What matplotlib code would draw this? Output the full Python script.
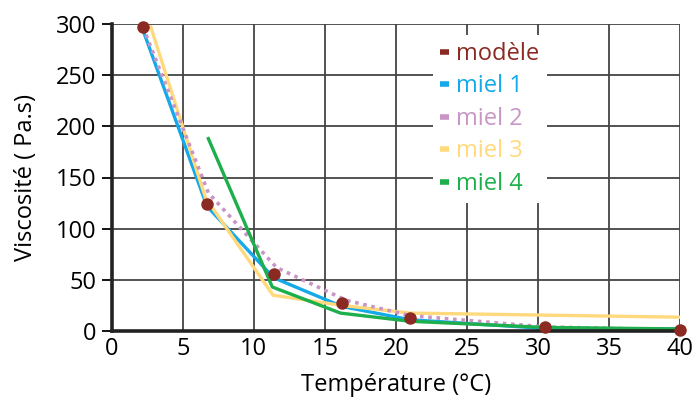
import matplotlib
matplotlib.use('Agg')
import matplotlib.pyplot as plt
from matplotlib.lines import Line2D

plt.rcParams['font.family'] = ['Open Sans', 'DejaVu Sans']

# données
modele_T = [2.2, 6.7, 11.4, 16.2, 21.0, 30.5, 40.0]
modele_v = [297, 124, 56, 27, 13, 4, 0.5]

miel1_T = [2.2, 6.7, 11.4, 16.2, 21.0, 30.5, 40.0]
miel1_v = [294, 122, 52, 24, 11, 2.5, 2]

miel2_T = [2.2, 6.8, 11.6, 16.5, 21.0, 30.5, 40.0]
miel2_v = [297, 135, 62, 30, 15, 4, 1]

miel3_T = [2.75, 6.6, 11.35, 16.2, 21.0, 40.0]
miel3_v = [297, 130, 35, 25, 17.5, 13.5]

miel4_T = [6.8, 11.3, 16.1, 21.0, 30.5, 40.0]
miel4_v = [188, 43, 17.5, 9.5, 3.5, 2]

labels = ['modèle', 'miel 1', 'miel 2', 'miel 3', 'miel 4']
colors = ['#8B2A22', '#14A9E8', '#C895C6', '#FFD97C', '#1DAF4B']

fig = plt.figure(figsize=(6.94, 4.0), dpi=100)
ax = fig.add_axes([0.161, 0.1725, 0.819, 0.7675])

ax.plot(miel1_T, miel1_v, color=colors[1], lw=2.4, zorder=3)
ax.plot(miel2_T, miel2_v, color=colors[2], lw=2.6, ls=(0, (1, 1.3)), zorder=3.2)
ax.plot(miel3_T, miel3_v, color=colors[3], lw=2.4, zorder=3.1)
ax.plot(miel4_T, miel4_v, color=colors[4], lw=2.4, zorder=3.3)
ax.plot(modele_T, modele_v, ls='none', marker='o', ms=8, color=colors[0],
        zorder=5, clip_on=False)

ax.set_xlim(0, 40)
ax.set_ylim(0, 300)
ax.set_xticks(range(0, 41, 5))
ax.set_yticks(range(0, 301, 50))
ax.grid(True, color='#444444', lw=1.3)
ax.set_axisbelow(True)

for s in ['top', 'right']:
    ax.spines[s].set_visible(False)
for s in ['left', 'bottom']:
    ax.spines[s].set_linewidth(2.6)
    ax.spines[s].set_color('#222222')
    ax.spines[s].set_zorder(4)

ax.tick_params(axis='y', direction='out', length=7, width=1.3, labelsize=17, pad=4)
ax.tick_params(axis='x', length=0, labelsize=17, pad=4)

ax.set_xlabel('Température (°C)', fontsize=17, labelpad=9)
ax.set_ylabel('Viscosité ( Pa.s)', fontsize=17, labelpad=13)

handles = [Line2D([], [], color=c, lw=4, solid_capstyle='butt') for c in colors]
leg = ax.legend(handles, labels, loc='upper left', bbox_to_anchor=(0.565, 0.965),
                frameon=True, fancybox=False, framealpha=1, facecolor='white',
                edgecolor='none', fontsize=17, handlelength=0.4,
                handletextpad=0.3, labelspacing=0.36, borderpad=0.3,
                borderaxespad=0)
for t, c in zip(leg.get_texts(), colors):
    t.set_color(c)
leg.set_zorder(6)

fig.savefig('out.png', dpi=100)
